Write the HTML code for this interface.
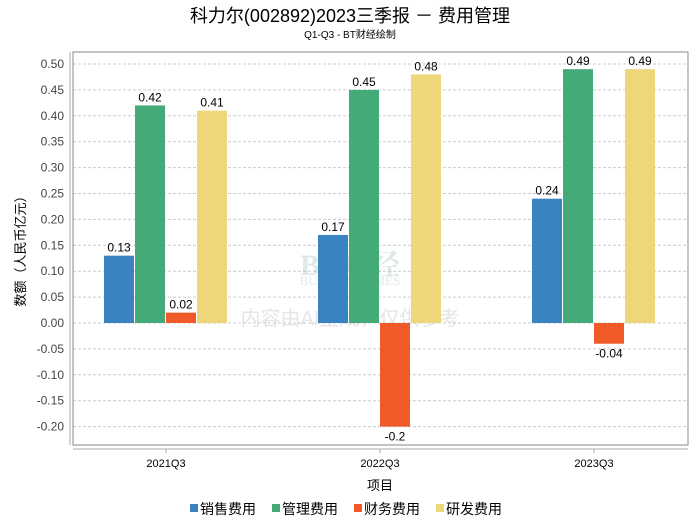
<!DOCTYPE html>
<html><head><meta charset="utf-8"><style>
body{margin:0;background:#fff;font-family:"Liberation Sans","Noto Sans CJK SC",sans-serif;}
</style></head><body>
<svg id="chart" width="700" height="524" xmlns="http://www.w3.org/2000/svg" font-family="Liberation Sans, Noto Sans CJK SC, sans-serif">
<text x="350" y="22" text-anchor="middle" font-size="18" fill="#000">科力尔(002892)2023三季报 － 费用管理</text>
<text x="350" y="38" text-anchor="middle" font-size="10" fill="#000">Q1-Q3 - BT财经绘制</text>
<g id="grid"></g>
<rect x="73" y="52" width="615" height="393" fill="none" stroke="#888" stroke-width="1"/>
<line x1="70" y1="52" x2="70" y2="445" stroke="#aaa"/>
<line x1="73" y1="449" x2="688" y2="449" stroke="#aaa"/>
<g id="watermark" opacity="0.25">
<text x="350" y="275" text-anchor="middle" font-size="30" font-family="Liberation Serif, Noto Serif CJK SC, serif" fill="#8aa" font-weight="bold">BT财经</text>
<text x="350" y="285" text-anchor="middle" font-size="13" font-family="Liberation Serif, serif" fill="#8aa">BUSINESSTIMES</text>
<text x="350" y="325" text-anchor="middle" font-size="20" fill="#999">内容由AI生成，仅供参考</text>
</g>
<g id="bars"></g>
<g id="xlabels"></g>
<text transform="translate(25,248) rotate(-90)" text-anchor="middle" font-size="13" fill="#000">数额（人民币亿元）</text>
<text x="380" y="490" text-anchor="middle" font-size="13" fill="#000">项目</text>
<g id="legend"></g>
</svg>
<script>
const categories=["2021Q3","2022Q3","2023Q3"];
const seriesNames=["销售费用","管理费用","财务费用","研发费用"];
const sales=[0.13,0.17,0.24];
const admin=[0.42,0.45,0.49];
const finance=[0.02,-0.2,-0.04];
const rnd=[0.41,0.48,0.49];
const yTicks=[-0.20,-0.15,-0.10,-0.05,0.00,0.05,0.10,0.15,0.20,0.25,0.30,0.35,0.40,0.45,0.50];
const colors=["#3a83c1","#44aa77","#f05a28","#eed67a"];
const NS="http://www.w3.org/2000/svg";
const y=v=>323-v*518;
const xc=i=>166+i*214;
function mk(tag,attrs,parent){const e=document.createElementNS(NS,tag);for(const k in attrs)e.setAttribute(k,attrs[k]);document.getElementById(parent).appendChild(e);return e;}
yTicks.forEach(t=>{
 const l=mk('line',{x1:73,x2:688,y1:y(t),y2:y(t),stroke:'#ccc','stroke-dasharray':'3,2'},'grid');
 
 
 const tx=mk('text',{x:64,y:y(t)+4,'text-anchor':'end','font-size':12,fill:'#444'},'grid');
 
 
 tx.textContent=t.toFixed(2);
});
const all=[sales,admin,finance,rnd];
categories.forEach((c,i)=>{
 all.forEach((s,j)=>{
  const v=s[i];const x=xc(i)-62+j*31;
  const r=mk('rect',{x:x,y:Math.min(y(v),y(0)),width:30,height:Math.abs(y(v)-y(0)),fill:colors[j]},'bars');
  
  
  const t=mk('text',{x:x+15,y:v>=0?y(v)-4:y(v)+14,'text-anchor':'middle','font-size':12,fill:'#000'},'bars');
  
  
  t.textContent=String(v);
 });
 const tk=mk('line',{x1:xc(i),x2:xc(i),y1:449,y2:453,stroke:'#aaa'},'xlabels');
 
 
 const tl=mk('text',{x:xc(i),y:467,'text-anchor':'middle','font-size':11,fill:'#000'},'xlabels');
 
 
 tl.textContent=c;
});
let lx=190;
seriesNames.forEach((n,j)=>{
 const r=mk('rect',{x:lx,y:504,width:8,height:8,fill:colors[j]},'legend');
 
 
 const t=mk('text',{x:lx+10,y:514,'font-size':14,fill:'#000'},'legend');
 
 
 t.textContent=n;
 lx+=82;
});
</script>
</body></html>
